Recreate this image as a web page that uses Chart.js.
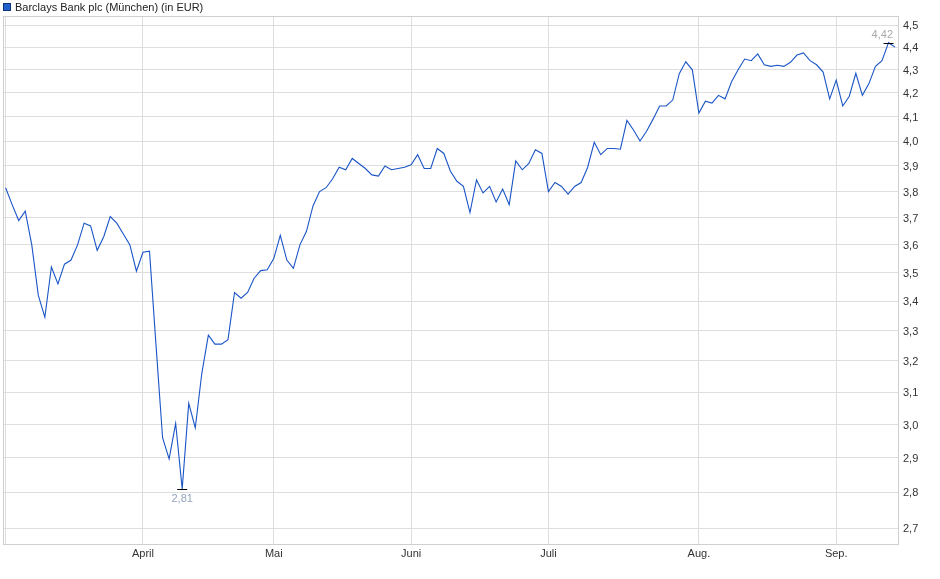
<!DOCTYPE html>
<html>
<head>
<meta charset="utf-8">
<script src="https://cdn.jsdelivr.net/npm/chart.js@4/dist/chart.umd.min.js"></script>
<style>
  body { margin: 0; background: #fff; }
  #wrap { width: 940px; height: 579px; }
</style>
</head>
<body>
<div id="wrap"><canvas id="chart" width="940" height="579"></canvas></div>
<script>
const seriesName = "Barclays Bank plc (München) (in EUR)";

// daily closes (one per trading day, March .. mid-Sep.)
const prices = [
    3.815, 3.75, 3.69, 3.725, 3.60, 3.42, 3.345, 3.52, 3.46, 3.53,
    3.545, 3.60, 3.68, 3.67, 3.58, 3.63, 3.705, 3.68, 3.64, 3.60,
    3.505, 3.573, 3.577, 3.25, 2.96, 2.897, 3.003, 2.81, 3.065, 2.99,
    3.16, 3.285, 3.255, 3.255, 3.27, 3.43, 3.41, 3.43, 3.48, 3.507,
    3.51, 3.55, 3.635, 3.545, 3.515, 3.60, 3.65, 3.745, 3.80, 3.815,
    3.85, 3.895, 3.885, 3.93, 3.91, 3.89, 3.865, 3.86, 3.90, 3.885,
    3.89, 3.895, 3.905, 3.945, 3.89, 3.89, 3.97, 3.95, 3.88, 3.84,
    3.82, 3.72, 3.845, 3.795, 3.82, 3.76, 3.81, 3.75, 3.92, 3.885,
    3.91, 3.965, 3.95, 3.80, 3.835, 3.82, 3.79, 3.82, 3.835, 3.895,
    3.995, 3.945, 3.97, 3.97, 3.967, 4.085, 4.045, 4.00, 4.04, 4.09,
    4.145, 4.145, 4.17, 4.283, 4.335, 4.30, 4.115, 4.165, 4.157, 4.19,
    4.175, 4.248, 4.30, 4.347, 4.34, 4.37, 4.322, 4.315, 4.32, 4.315,
    4.333, 4.365, 4.374, 4.34, 4.322, 4.29, 4.175, 4.255, 4.145, 4.186,
    4.285, 4.19, 4.24, 4.315, 4.34, 4.42, 4.40
];

// first trading day of each month (index into prices) and its label
const monthStarts = [21, 41, 62, 83, 106, 127];
const monthLabels = ["April", "Mai", "Juni", "Juli", "Aug.", "Sep."];

// y axis tick values (log scale)
const yTicks = [2.7, 2.8, 2.9, 3.0, 3.1, 3.2, 3.3, 3.4, 3.5, 3.6, 3.7, 3.8, 3.9, 4.0, 4.1, 4.2, 4.3, 4.4, 4.5];

const lineColor = '#1a55c6';
const gridColor = '#dedede';
const frameColor = '#cfcfcf';
const fontFamily = '"Liberation Sans", Arial, sans-serif';

function fmt(v, d) {
    return v.toFixed(d).replace('.', ',');
}

const decor = {
    id: 'decor',
    beforeDatasetsDraw(chart) {
        const { ctx, chartArea: a } = chart;
        ctx.save();
        ctx.strokeStyle = frameColor;
        ctx.lineWidth = 1;
        ctx.strokeRect(a.left + 0.5, a.top + 0.5, a.right - a.left - 1, a.bottom - a.top - 1);
        ctx.restore();
    },
    afterDatasetsDraw(chart) {
        // min / max markers with their values
        const { ctx, chartArea: a } = chart;
        const xs = chart.scales.x, ys = chart.scales.y;
        const lo = Math.min(...prices), hi = Math.max(...prices);
        const marks = [
            { i: prices.indexOf(lo), v: lo, below: true, color: '#93a3bd' },
            { i: prices.indexOf(hi), v: hi, below: false, color: '#a8a8a8' }
        ];
        ctx.save();
        ctx.font = '11px ' + fontFamily;
        ctx.textBaseline = 'middle';
        ctx.textAlign = 'center';
        marks.forEach(m => {
            const px = xs.getPixelForValue(m.i);
            const py = Math.round(ys.getPixelForValue(m.v)) + 0.5;
            ctx.strokeStyle = '#000';
            ctx.lineWidth = 1;
            ctx.beginPath();
            ctx.moveTo(px - 5, py);
            ctx.lineTo(px + 5, py);
            ctx.stroke();
            const txt = fmt(m.v, 2);
            const w = ctx.measureText(txt).width;
            let cx = px;
            if (cx + w / 2 > a.right - 6) cx = a.right - 6 - w / 2;
            ctx.fillStyle = m.color;
            ctx.fillText(txt, cx, m.below ? py + 9 : py - 9);
        });
        ctx.restore();
    },
    afterDraw(chart) {
        // legend
        const ctx = chart.ctx;
        ctx.save();
        ctx.fillStyle = '#2160c8';
        ctx.fillRect(3, 3, 8, 8);
        ctx.strokeStyle = '#0c3580';
        ctx.lineWidth = 1;
        ctx.strokeRect(3.5, 3.5, 7, 7);
        ctx.fillStyle = '#222';
        ctx.font = '11px ' + fontFamily;
        ctx.textBaseline = 'middle';
        ctx.fillText(seriesName, 15, 7.5);
        ctx.restore();
    }
};

new Chart(document.getElementById('chart'), {
    type: 'line',
    data: {
        datasets: [{
            label: seriesName,
            data: prices.map((v, i) => ({ x: i, y: v })),
            borderColor: lineColor,
            borderWidth: 1.1,
            pointRadius: 0,
            tension: 0,
            fill: false
        }]
    },
    options: {
        responsive: false,
        animation: false,
        devicePixelRatio: 1,
        layout: { padding: { top: 16, left: 3, right: 0, bottom: 0 } },
        plugins: {
            legend: { display: false },
            tooltip: { enabled: false }
        },
        scales: {
            x: {
                type: 'linear',
                min: -0.4,
                max: 136.6,
                afterBuildTicks: s => { s.ticks = [0, ...monthStarts].map(v => ({ value: v })); },
                afterFit: s => { s.height = 34; },
                grid: { color: gridColor, drawTicks: false },
                border: { display: false },
                ticks: {
                    autoSkip: false,
                    maxRotation: 0,
                    padding: 2,
                    color: '#333',
                    font: { family: fontFamily, size: 11 },
                    callback: v => {
                        const k = monthStarts.indexOf(v);
                        return k < 0 ? '' : monthLabels[k];
                    }
                }
            },
            y: {
                type: 'logarithmic',
                position: 'right',
                min: 2.6546,
                max: 4.5413,
                afterBuildTicks: s => { s.ticks = yTicks.map(v => ({ value: v })); },
                afterFit: s => { s.width = 41; },
                grid: { color: gridColor, drawTicks: false },
                border: { display: false },
                ticks: {
                    padding: 4,
                    labelOffset: 1,
                    color: '#333',
                    font: { family: fontFamily, size: 11 },
                    callback: v => fmt(v, 1)
                }
            }
        }
    },
    plugins: [decor]
});
</script>
</body>
</html>
